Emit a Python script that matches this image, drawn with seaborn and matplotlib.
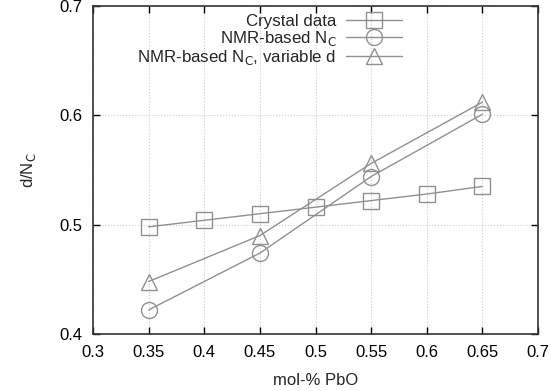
import numpy as np
import pandas as pd
from matplotlib import pyplot as plt
from matplotlib.ticker import FuncFormatter
import seaborn as sns

crystal_x = [0.35, 0.40, 0.45, 0.50, 0.55, 0.60, 0.65]
crystal_y = [0.498, 0.504, 0.510, 0.516, 0.522, 0.528, 0.535]

nmr_x = [0.35, 0.45, 0.55, 0.65]
nmr_y = [0.422, 0.474, 0.544, 0.601]

nmr_var_x = [0.35, 0.45, 0.55, 0.65]
nmr_var_y = [0.448, 0.490, 0.556, 0.612]

x_ticks = [0.3, 0.35, 0.4, 0.45, 0.5, 0.55, 0.6, 0.65, 0.7]
y_ticks = [0.4, 0.5, 0.6, 0.7]

sns.set_style("ticks")
plt.rcParams['font.family'] = ['Liberation Sans', 'DejaVu Sans']
plt.rcParams['font.size'] = 12

gray = "#909090"

fig = plt.figure(figsize=(5.51, 3.91), dpi=100)
ax = fig.add_axes([0.1688, 0.1458, 0.8076, 0.8389])

series = [
    (crystal_x, crystal_y, "s", 11.5, "Crystal data"),
    (nmr_x, nmr_y, "o", 11.5, "NMR-based N$_\\mathrm{C}$"),
    (nmr_var_x, nmr_var_y, "^", 11.5, "NMR-based N$_\\mathrm{C}$, variable d"),
]
for xs, ys, m, ms, lab in series:
    df = pd.DataFrame({"x": xs, "y": ys})
    sns.lineplot(data=df, x="x", y="y", ax=ax, marker=m, markersize=ms,
                 mfc="none", mec=gray, mew=1.0, color=gray, lw=1.0, label=lab)

ax.set_xlim(0.3, 0.7)
ax.set_ylim(0.4, 0.7)
ax.set_xticks(x_ticks)
ax.set_yticks(y_ticks)
fmt = FuncFormatter(lambda v, p: f"{v:g}")
ax.xaxis.set_major_formatter(fmt)
ax.yaxis.set_major_formatter(fmt)
ax.tick_params(direction="in", top=True, right=True, length=5, width=1, colors="black", labelsize=12)
ax.tick_params(axis="x", pad=8)
ax.tick_params(axis="y", pad=8)
for s in ax.spines.values():
    s.set_linewidth(1.2)
    s.set_color("#333333")
ax.grid(True, color="#cccccc", linestyle=":", linewidth=0.8)

ax.set_xlabel("mol-% PbO", labelpad=9)
ax.set_ylabel("d/N$_\\mathrm{C}$", labelpad=15)

# legend text ends near x=341 px, sample line 352-400 px
leg = ax.legend(loc="upper right", bbox_transform=fig.transFigure,
                bbox_to_anchor=(402 / 551, 1 - 14 / 391), frameon=False,
                markerfirst=False, handlelength=3.3, handletextpad=0.55,
                labelspacing=0.0, borderaxespad=0.0, borderpad=0.0, fontsize=12.2)

fig.savefig("out.png", dpi=100)
